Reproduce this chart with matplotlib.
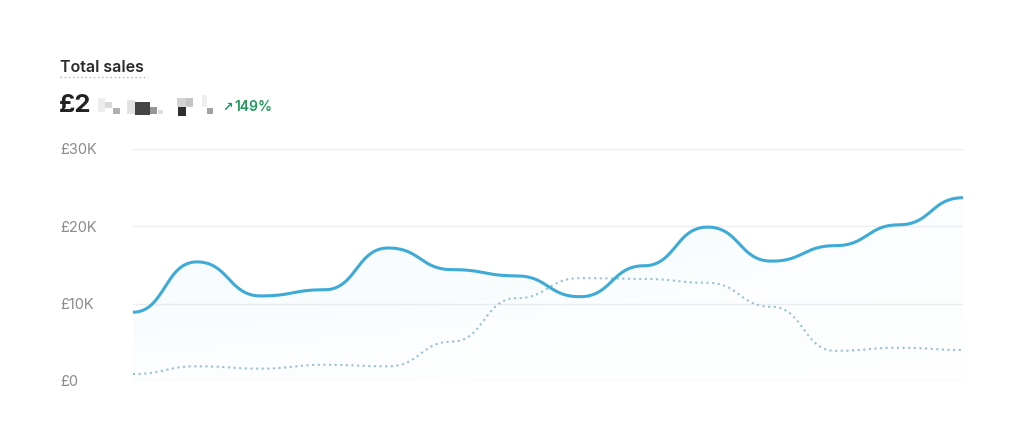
import numpy as np
import matplotlib
matplotlib.use("Agg")
import matplotlib.pyplot as plt
from matplotlib.lines import Line2D
from matplotlib.patches import Rectangle

# data (in GBP)
periods = list(range(14))
current_sales = [8900, 15400, 11000, 11800, 17200, 14400, 13600,
                 10900, 14900, 19900, 15500, 17500, 20200, 23700]
previous_sales = [900, 1900, 1600, 2100, 1900, 5100, 10700,
                  13300, 13200, 12700, 9600, 3900, 4300, 4000]
y_ticks = [0, 10000, 20000, 30000]
y_tick_labels = ["£0", "£10K", "£20K", "£30K"]

line_col = "#3eaad6"
prev_col = "#98c0d6"
W, H = 1024, 443


def bump(xs, ys, n=40):
    # smooth S-curve between points with flat tangents (like d3 curveBumpX)
    out_x, out_y = [], []
    for i in range(len(xs) - 1):
        x0, x1, y0, y1 = xs[i], xs[i + 1], ys[i], ys[i + 1]
        xm = (x0 + x1) / 2
        u = np.linspace(0, 1, n, endpoint=(i == len(xs) - 2))
        a, b, c, d = (1 - u)**3, 3 * u * (1 - u)**2, 3 * u**2 * (1 - u), u**3
        out_x.append(a * x0 + b * xm + c * xm + d * x1)
        out_y.append(a * y0 + b * y0 + c * y1 + d * y1)
    return np.concatenate(out_x), np.concatenate(out_y)


fig = plt.figure(figsize=(W / 100, H / 100), dpi=100)
fig.patch.set_facecolor("white")
ax = fig.add_axes([133 / W, 1 - 381 / H, (963 - 133) / W, (381 - 149) / H])

cx, cy = bump(periods, current_sales)
px, py = bump(periods, previous_sales)

# light gradient fill under the current line
poly = ax.fill_between(cx, cy, 0, color="none", lw=0)
grad = np.zeros((100, 100, 4))
grad[..., :3] = matplotlib.colors.to_rgb(line_col)
vert = np.linspace(0.07, 0.015, 100)[:, None]
horiz = np.linspace(1.0, 0.35, 100)[None, :]
grad[..., 3] = vert * horiz
img = ax.imshow(grad, extent=[0, 13, 0, 25000], origin="upper", aspect="auto", zorder=1)
img.set_clip_path(poly.get_paths()[0], transform=ax.transData)

ax.plot(px, py, color=prev_col, lw=1.5, linestyle=(0, (1, 1.7)), zorder=2)
ax.plot(cx, cy, color=line_col, lw=2.2, zorder=3, solid_capstyle="round")

ax.set_xlim(0, 13)
ax.set_ylim(0, 30000)
ax.set_yticks(y_ticks)
ax.set_yticklabels(y_tick_labels)
ax.set_xticks([])
for sp in ax.spines.values():
    sp.set_visible(False)
ax.grid(axis="y", color="#eeeeee", lw=1)
ax.set_axisbelow(True)
ax.tick_params(axis="y", length=0, pad=(133 - 60) * 0.72, labelsize=10.5, labelcolor="#8a8a8a")
for lab in ax.get_yticklabels():
    lab.set_horizontalalignment("left")
    lab.set_fontfamily("Inter")

# header
fig.text(60 / W, 1 - 67 / H, "Total sales", fontsize=11.5, fontweight="semibold",
         color="#2b2b2b", family="Inter", ha="left", va="center")
fig.add_artist(Line2D([60 / W, 148 / W], [1 - 77 / H, 1 - 77 / H], transform=fig.transFigure,
                      color="#b5b5b5", lw=1, linestyle=(0, (1, 2))))
fig.text(59 / W, 1 - 106 / H, "£2", fontsize=18.5, fontweight="bold",
         color="#222222", family="Inter", ha="left", va="center")

# pixelated (redacted) part of the total
blocks = [
    (98, 98, 7, 14, "#ececec"), (105, 102, 7, 6, "#dadada"), (113, 108, 7, 6, "#b0b0b0"),
    (127, 100, 8, 14, "#e2e2e2"), (135, 102, 15, 13, "#444444"), (150, 107, 7, 7, "#959595"),
    (158, 110, 5, 4, "#dcdcdc"),
    (177, 98, 16, 9, "#d4d4d4"), (178, 107, 8, 9, "#2e2e2e"), (186, 98, 7, 8, "#c4c4c4"),
    (202, 95, 5, 12, "#efefef"), (207, 108, 6, 6, "#a2a2a2"),
]
for bx, by, bw, bh, bc in blocks:
    fig.add_artist(Rectangle((bx / W, 1 - (by + bh) / H), bw / W, bh / H,
                             transform=fig.transFigure, color=bc, lw=0))

fig.text(222 / W, 1 - 107 / H, "↗", fontsize=9, fontweight="bold",
         color="#1e9a5c", family="DejaVu Sans", ha="left", va="center")
fig.text(234 / W, 1 - 107 / H, "149%", fontsize=10, fontweight="semibold",
         color="#1e9a5c", family="Inter", ha="left", va="center")

fig.savefig("out.png", dpi=100, facecolor="white")
